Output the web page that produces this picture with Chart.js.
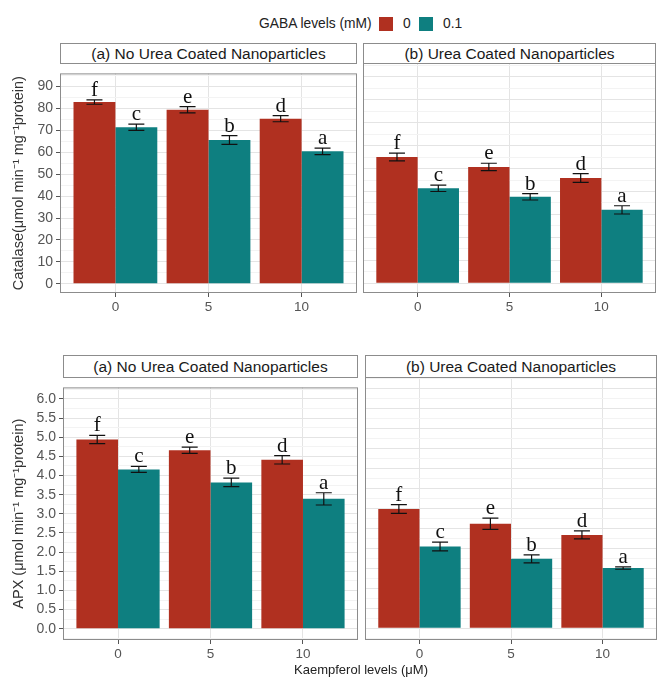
<!DOCTYPE html>
<html>
<head>
<meta charset="utf-8">
<script src="https://cdn.jsdelivr.net/npm/chart.js@4"></script>
<style>
  body { margin: 0; background: #fff; }
  #wrap { position: relative; width: 659px; height: 682px; font-family: "Liberation Sans", Arial, sans-serif; }
  .cv { position: absolute; }
  .strip { position: absolute; box-sizing: border-box; border: 1px solid #8c8c8c; background: #fff;
           text-align: center; font-size: 15.5px; color: #1a1a1a; }
  .txt { position: absolute; font-size: 13px; color: #222; white-space: nowrap; }
  .leg { font-size: 13.8px; }
  .key { position: absolute; width: 14px; height: 14px; }
</style>
</head>
<body>
<div id="wrap">
  <div class="txt leg" style="left:259px;top:16px;">GABA levels (mM)</div>
  <div class="key" style="left:379px;top:17px;background:#B03020;"></div>
  <div class="txt leg" style="left:403px;top:16px;">0</div>
  <div class="key" style="left:419px;top:17px;background:#0E7F80;"></div>
  <div class="txt leg" style="left:443px;top:16px;">0.1</div>

  <div class="strip" style="left:60px;top:43px;width:297px;height:21px;line-height:19px;">(a) No Urea Coated Nanoparticles</div>
  <div class="strip" style="left:363px;top:43px;width:293px;height:21px;line-height:19px;">(b) Urea Coated Nanoparticles</div>
  <div class="strip" style="left:63px;top:355px;width:295px;height:23px;line-height:21px;">(a) No Urea Coated Nanoparticles</div>
  <div class="strip" style="left:365px;top:355px;width:292px;height:23px;line-height:21px;">(b) Urea Coated Nanoparticles</div>

  <canvas class="cv" id="catA" style="left:0px;top:62px;"></canvas>
  <canvas class="cv" id="catB" style="left:362px;top:62px;"></canvas>
  <canvas class="cv" id="apxA" style="left:0px;top:376px;"></canvas>
  <canvas class="cv" id="apxB" style="left:364px;top:376px;"></canvas>

  <div class="txt" style="left:361px;top:662px;transform:translateX(-50%);">Kaempferol levels (μM)</div>
</div>

<script>
// ---------------- data ----------------
const kaempferol = [0, 5, 10];
const gabaLevels = ['0', '0.1'];
const letters0 = ['f', 'e', 'd'];
const letters01 = ['c', 'b', 'a'];

// Catalase
const catNoUrea0 = [82.9, 79.4, 75.3];
const catNoUrea0Err = [1.0, 1.4, 1.4];
const catNoUrea01 = [71.4, 65.6, 60.4];
const catNoUrea01Err = [1.4, 2.0, 1.5];
const catUrea0 = [55.0, 50.7, 45.9];
const catUrea0Err = [1.7, 1.6, 1.9];
const catUrea01 = [41.4, 37.7, 32.0];
const catUrea01Err = [1.4, 1.4, 1.8];

// APX
const apxNoUrea0 = [4.94, 4.66, 4.41];
const apxNoUrea0Err = [0.11, 0.08, 0.11];
const apxNoUrea01 = [4.16, 3.82, 3.39];
const apxNoUrea01Err = [0.08, 0.11, 0.16];
const apxUrea0 = [2.99, 2.62, 2.34];
const apxUrea0Err = [0.11, 0.14, 0.10];
const apxUrea01 = [2.05, 1.74, 1.51];
const apxUrea01Err = [0.11, 0.10, 0.03];

const catTicks = [0, 10, 20, 30, 40, 50, 60, 70, 80, 90];
const apxTicks = [0, 0.5, 1, 1.5, 2, 2.5, 3, 3.5, 4, 4.5, 5, 5.5, 6];

const RED = '#B03020';
const TEAL = '#0E7F80';
const TICK_COL = '#555';

// error bars + letters + panel border
const panelPlugin = {
  id: 'panel',
  afterDatasetsDraw(chart) {
    const ctx = chart.ctx;
    const ys = chart.scales.y;
    ctx.save();
    chart.data.datasets.forEach((ds, di) => {
      const meta = chart.getDatasetMeta(di);
      meta.data.forEach((bar, i) => {
        const v = ds.data[i].y, e = ds.errors[i];
        const yHi = ys.getPixelForValue(v + e);
        const yLo = ys.getPixelForValue(v - e);
        ctx.strokeStyle = '#111';
        ctx.lineWidth = 1.2;
        ctx.beginPath();
        ctx.moveTo(bar.x, yHi); ctx.lineTo(bar.x, yLo);
        ctx.moveTo(bar.x - 8, yHi); ctx.lineTo(bar.x + 8, yHi);
        ctx.moveTo(bar.x - 8, yLo); ctx.lineTo(bar.x + 8, yLo);
        ctx.stroke();
        ctx.fillStyle = '#111';
        ctx.font = '21px "Liberation Serif", "Times New Roman", serif';
        ctx.textAlign = 'center';
        ctx.textBaseline = 'alphabetic';
        ctx.fillText(ds.letters[i], bar.x, yHi - 4);
      });
    });
    const a = chart.chartArea;
    ctx.strokeStyle = '#8c8c8c';
    ctx.lineWidth = 1;
    ctx.strokeRect(a.left + 0.5, a.top + 0.5, a.width - 1, a.height - 1);
    ctx.restore();
  }
};

function makePanel(id, w, h, yAxisW, yMin, yMax, yStep, majors, yTitle, s0, e0, s01, e01) {
  const el = document.getElementById(id);
  el.width = w; el.height = h;
  el.style.width = w + 'px'; el.style.height = h + 'px';
  const isMajorY = v => majors.some(m => Math.abs(m - v) < 1e-6);
  const showY = yAxisW > 0;

  return new Chart(el, {
    type: 'bar',
    data: {
      datasets: [
        { label: gabaLevels[0], data: kaempferol.map((k, i) => ({ x: k, y: s0[i] })),
          errors: e0, letters: letters0, backgroundColor: RED },
        { label: gabaLevels[1], data: kaempferol.map((k, i) => ({ x: k, y: s01[i] })),
          errors: e01, letters: letters01, backgroundColor: TEAL }
      ]
    },
    options: {
      responsive: false,
      animation: false,
      devicePixelRatio: 1,
      layout: { padding: { top: 1, right: 1, left: showY ? 0 : 1, bottom: 0 } },
      categoryPercentage: 0.9,
      barPercentage: 1,
      plugins: { legend: { display: false }, tooltip: { enabled: false } },
      scales: {
        x: {
          type: 'linear',
          offset: false,
          min: -2.975, max: 12.975,
          border: { display: false },
          grid: { offset: false, color: '#e4e4e4', tickColor: TICK_COL, tickLength: 4 },
          ticks: {
            stepSize: 5, maxTicksLimit: 100, includeBounds: false, maxRotation: 0, autoSkip: false,
            color: TICK_COL, font: { size: 13.5, family: 'Liberation Sans' }, padding: 2
          },
          afterFit: s => { s.height = 26; }
        },
        y: {
          min: yMin, max: yMax,
          border: { display: false },
          grid: {
            color: c => (c.tick && isMajorY(c.tick.value)) ? '#e4e4e4' : '#f3f3f3',
            tickColor: c => (showY && c.tick && isMajorY(c.tick.value)) ? TICK_COL : 'rgba(0,0,0,0)',
            tickLength: 4,
            drawTicks: showY
          },
          ticks: {
            display: showY,
            stepSize: yStep, maxTicksLimit: 100, includeBounds: false, autoSkip: false,
            color: TICK_COL, font: { size: 14, family: 'Liberation Sans' }, padding: 3,
            callback: v => (isMajorY(v) ? (yStep < 1 ? v.toFixed(1) : String(v)) : '')
          },
          title: {
            display: showY, text: yTitle, color: '#333',
            font: { size: 14.5, family: 'Liberation Sans' }, padding: { top: 10, bottom: 0 }
          },
          afterFit: s => { s.width = yAxisW; }
        }
      }
    },
    plugins: [panelPlugin]
  });
}

const catTitle = 'Catalase(μmol min⁻¹ mg⁻¹protein)';
const apxTitle = 'APX (μmol min⁻¹ mg⁻¹protein)';

makePanel('catA', 358, 257, 60, -4.2, 95.96, 5, catTicks, catTitle,
  catNoUrea0, catNoUrea0Err, catNoUrea01, catNoUrea01Err);
makePanel('catB', 295, 257, 0, -4.2, 95.96, 5, catTicks, catTitle,
  catUrea0, catUrea0Err, catUrea01, catUrea01Err);
makePanel('apxA', 359, 290, 63, -0.294, 6.30, 0.25, apxTicks, apxTitle,
  apxNoUrea0, apxNoUrea0Err, apxNoUrea01, apxNoUrea01Err);
makePanel('apxB', 294, 290, 0, -0.294, 6.30, 0.25, apxTicks, apxTitle,
  apxUrea0, apxUrea0Err, apxUrea01, apxUrea01Err);
</script>
</body>
</html>
